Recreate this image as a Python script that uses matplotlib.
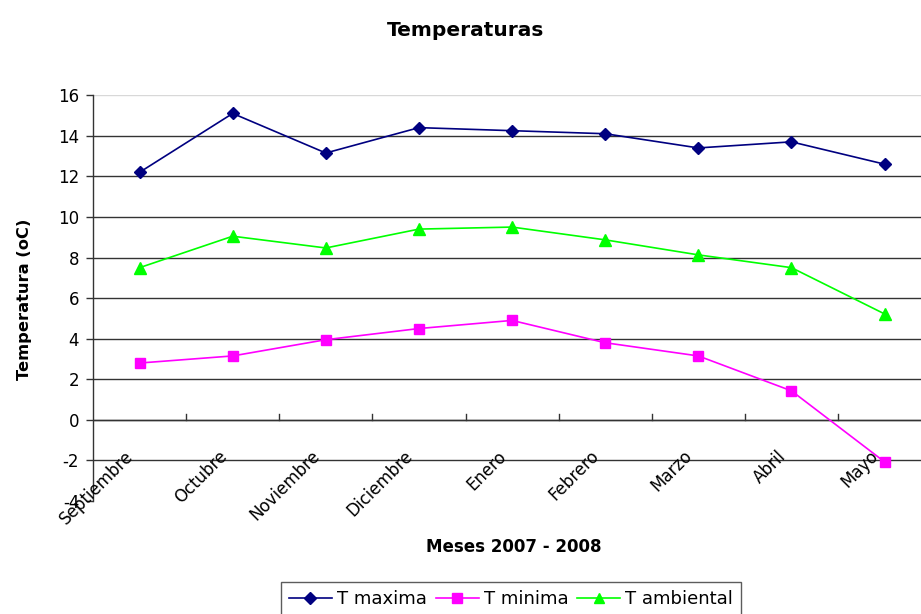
import matplotlib
matplotlib.use("Agg")
import matplotlib.pyplot as plt
import matplotlib.transforms as mtransforms
from matplotlib.lines import Line2D

plt.rcParams['font.family'] = ['DejaVu Sans']

meses = ["Septiembre", "Octubre", "Noviembre", "Diciembre", "Enero",
         "Febrero", "Marzo", "Abril", "Mayo"]
t_maxima = [12.2, 15.1, 13.15, 14.4, 14.25, 14.1, 13.4, 13.7, 12.6]
t_minima = [2.8, 3.15, 3.95, 4.5, 4.9, 3.8, 3.15, 1.43, -2.07]
t_ambiental = [7.5, 9.05, 8.47, 9.4, 9.5, 8.87, 8.13, 7.5, 5.22]
y_ticks = [-4, -2, 0, 2, 4, 6, 8, 10, 12, 14, 16]

fig = plt.figure(figsize=(9.21, 6.14), dpi=100)
ax = fig.add_axes([0.101, 0.184, 0.91, 0.661])

x = list(range(len(meses)))
ax.set_xlim(-0.5, len(meses) - 0.5)
ax.set_ylim(-4, 16)

# horizontal gridlines
for v in y_ticks[1:-1]:
    ax.axhline(v, color='#333333', lw=1.0, zorder=1)
ax.axhline(16, color='#d8d8d8', lw=1.0, zorder=1)

ax.plot(x, t_maxima, color='#000080', lw=1.2, marker='D', ms=6.5,
        markerfacecolor='#000080', markeredgecolor='#000080', zorder=3)
ax.plot(x, t_minima, color='#FF00FF', lw=1.2, marker='s', ms=7,
        markerfacecolor='#FF00FF', markeredgecolor='#FF00FF', zorder=3)
ax.plot(x, t_ambiental, color='#00FF00', lw=1.2, marker='^', ms=8,
        markerfacecolor='#00FF00', markeredgecolor='#00FF00', zorder=3)

for s in ['top', 'right', 'bottom']:
    ax.spines[s].set_visible(False)
ax.spines['left'].set_color('#333333')
ax.spines['left'].set_linewidth(1.0)

ax.set_yticks(y_ticks)
ax.set_yticklabels([str(v) for v in y_ticks], fontsize=12)
ax.tick_params(axis='y', length=5, width=1, color='#333333', pad=5)
ax.set_xticks([])

# category axis crossing at zero, with ticks between categories
ax.axhline(0, color='#333333', lw=1.0, zorder=2)
for b in range(1, len(meses)):
    ax.plot([b - 0.5, b - 0.5], [0, 0.3], color='#333333', lw=1.0, zorder=2)

offset = mtransforms.ScaledTranslation(-0.15, -0.27, fig.dpi_scale_trans)
for i, m in enumerate(meses):
    ax.text(i, 0, m, rotation=45, ha='right', va='top', rotation_mode='anchor',
            fontsize=12, transform=ax.transData + offset, zorder=4)

fig.text(0.506, 0.9414, "Temperaturas", ha='center', va='baseline',
         fontsize=14.5, fontweight='bold')
fig.text(0.0266, 0.513, "Temperatura (oC)", ha='center', va='center',
         rotation=90, fontsize=11.7, fontweight='bold')
fig.text(0.5575, 0.101, "Meses 2007 - 2008", ha='center', va='baseline',
         fontsize=12, fontweight='bold')

handles = [
    Line2D([], [], color='#000080', lw=1.2, marker='D', ms=6),
    Line2D([], [], color='#FF00FF', lw=1.2, marker='s', ms=6.5),
    Line2D([], [], color='#00FF00', lw=1.2, marker='^', ms=7.5),
]
leg = fig.legend(handles, ['T maxima', 'T minima', 'T ambiental'],
                 loc='upper center', bbox_to_anchor=(0.5548, 0.0521), ncol=3,
                 fontsize=13, frameon=True, fancybox=False, handlelength=2.38,
                 handletextpad=0.28, columnspacing=0.5, borderpad=0.44,
                 borderaxespad=0, numpoints=1)
leg.get_frame().set_edgecolor('#333333')
leg.get_frame().set_linewidth(1.0)

fig.savefig("out.png", dpi=100)
